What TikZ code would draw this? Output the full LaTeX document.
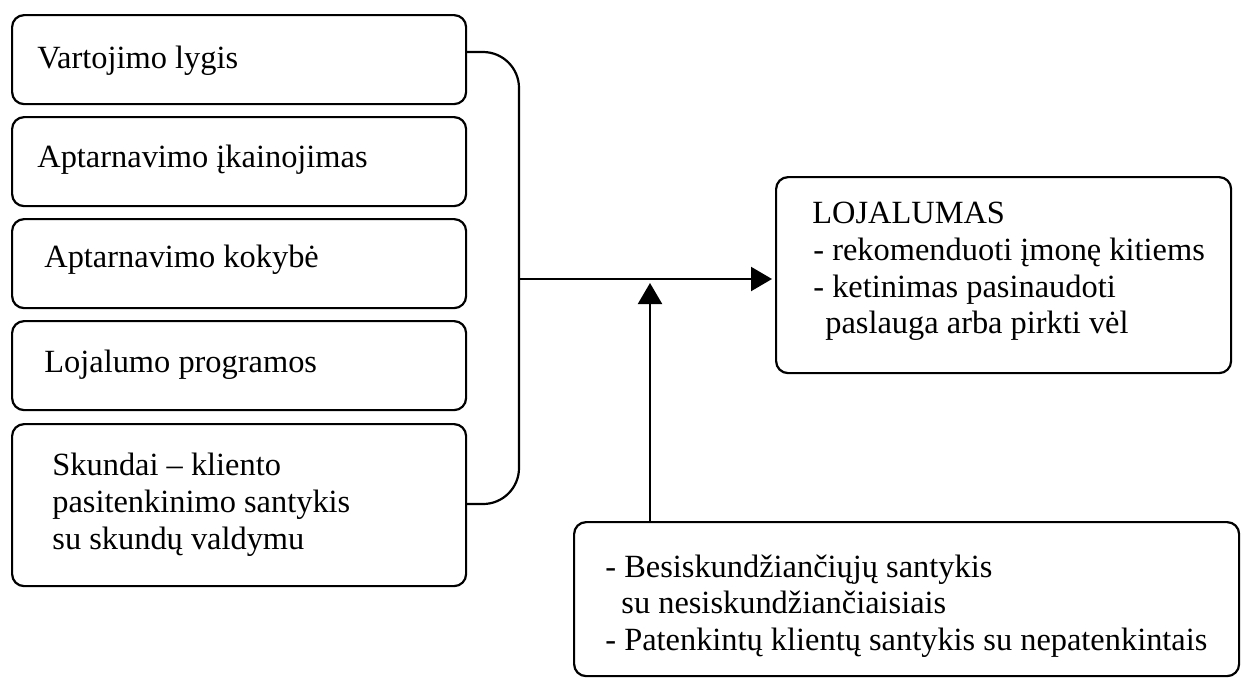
\documentclass[tikz,border=0pt]{standalone}
\usepackage{fontspec}
\setmainfont{Liberation Serif}
\usetikzlibrary{arrows.meta}
\tikzset{
  box/.style={draw, line width=1.1pt, rounded corners=6pt, anchor=north west, inner sep=0pt},
  txt/.style={anchor=base west, inner sep=0pt, font=\fontsize{16.2pt}{18.5pt}\selectfont},
  link/.style={line width=1.1pt},
  arr/.style={line width=1.1pt, -{Triangle[length=10.5pt,width=12pt]}}
}
\begin{document}
\begin{tikzpicture}[x=0.5pt,y=-0.5pt]
\useasboundingbox (0,0) rectangle (1244,677);

% factor boxes on the left
\node[box, minimum width=227pt, minimum height=44.5pt] (b1) at (11,14) {};
\node[box, minimum width=227pt, minimum height=44.5pt] (b2) at (11,116) {};
\node[box, minimum width=227pt, minimum height=44.5pt] (b3) at (11,218) {};
\node[box, minimum width=227pt, minimum height=44.5pt] (b4) at (11,320) {};
\node[box, minimum width=227pt, minimum height=81pt] (b5) at (11,423) {};

\node[txt] (t1) at (37,68) {Vartojimo lygis};
\node[txt] (t2) at (37,167) {Aptarnavimo įkainojimas};
\node[txt] (t3) at (44,267) {Aptarnavimo kokybė};
\node[txt] (t4) at (44,372) {Lojalumo programos};
\node[txt] (t5a) at (52,475) {Skundai – kliento};
\node[txt] (t5b) at (52,512) {pasitenkinimo santykis};
\node[txt] (t5c) at (52,549) {su skundų valdymu};

% result box
\node[box, minimum width=227.5pt, minimum height=98pt] (res) at (775,176) {};
\node[txt] (r1) at (812,223) {LOJALUMAS};
\node[txt] (r2) at (813,260) {- rekomenduoti įmonę kitiems};
\node[txt] (r3) at (813,297) {- ketinimas pasinaudoti};
\node[txt] (r4) at (825,333) {paslauga arba pirkti vėl};

% moderating factors box
\node[box, minimum width=332.5pt, minimum height=77pt] (mod) at (573,521) {};
\node[txt] (m1) at (605,577) {- Besiskundžiančiųjų santykis};
\node[txt] (m2) at (621,613) {su nesiskundžiančiaisiais};
\node[txt] (m3) at (605,650) {- Patenkintų klientų santykis su nepatenkintais};

% bracket joining the factors
\coordinate (yt) at (0,52);
\coordinate (yb) at (0,504);
\coordinate (jx) at (519,279);
\coordinate (jt) at (b1.east |- yt);
\coordinate (jb) at (b5.east |- yb);
\draw[link, rounded corners=18pt] (jt) -- (jx |- jt) -- (jx |- jb) -- (jb);

% arrows
\draw[arr, shorten >=1.5pt] (jx) -- (jx -| res.west);
\coordinate (vt) at (650,283);
\draw[arr] (vt |- mod.north) -- (vt);
\end{tikzpicture}
\end{document}
